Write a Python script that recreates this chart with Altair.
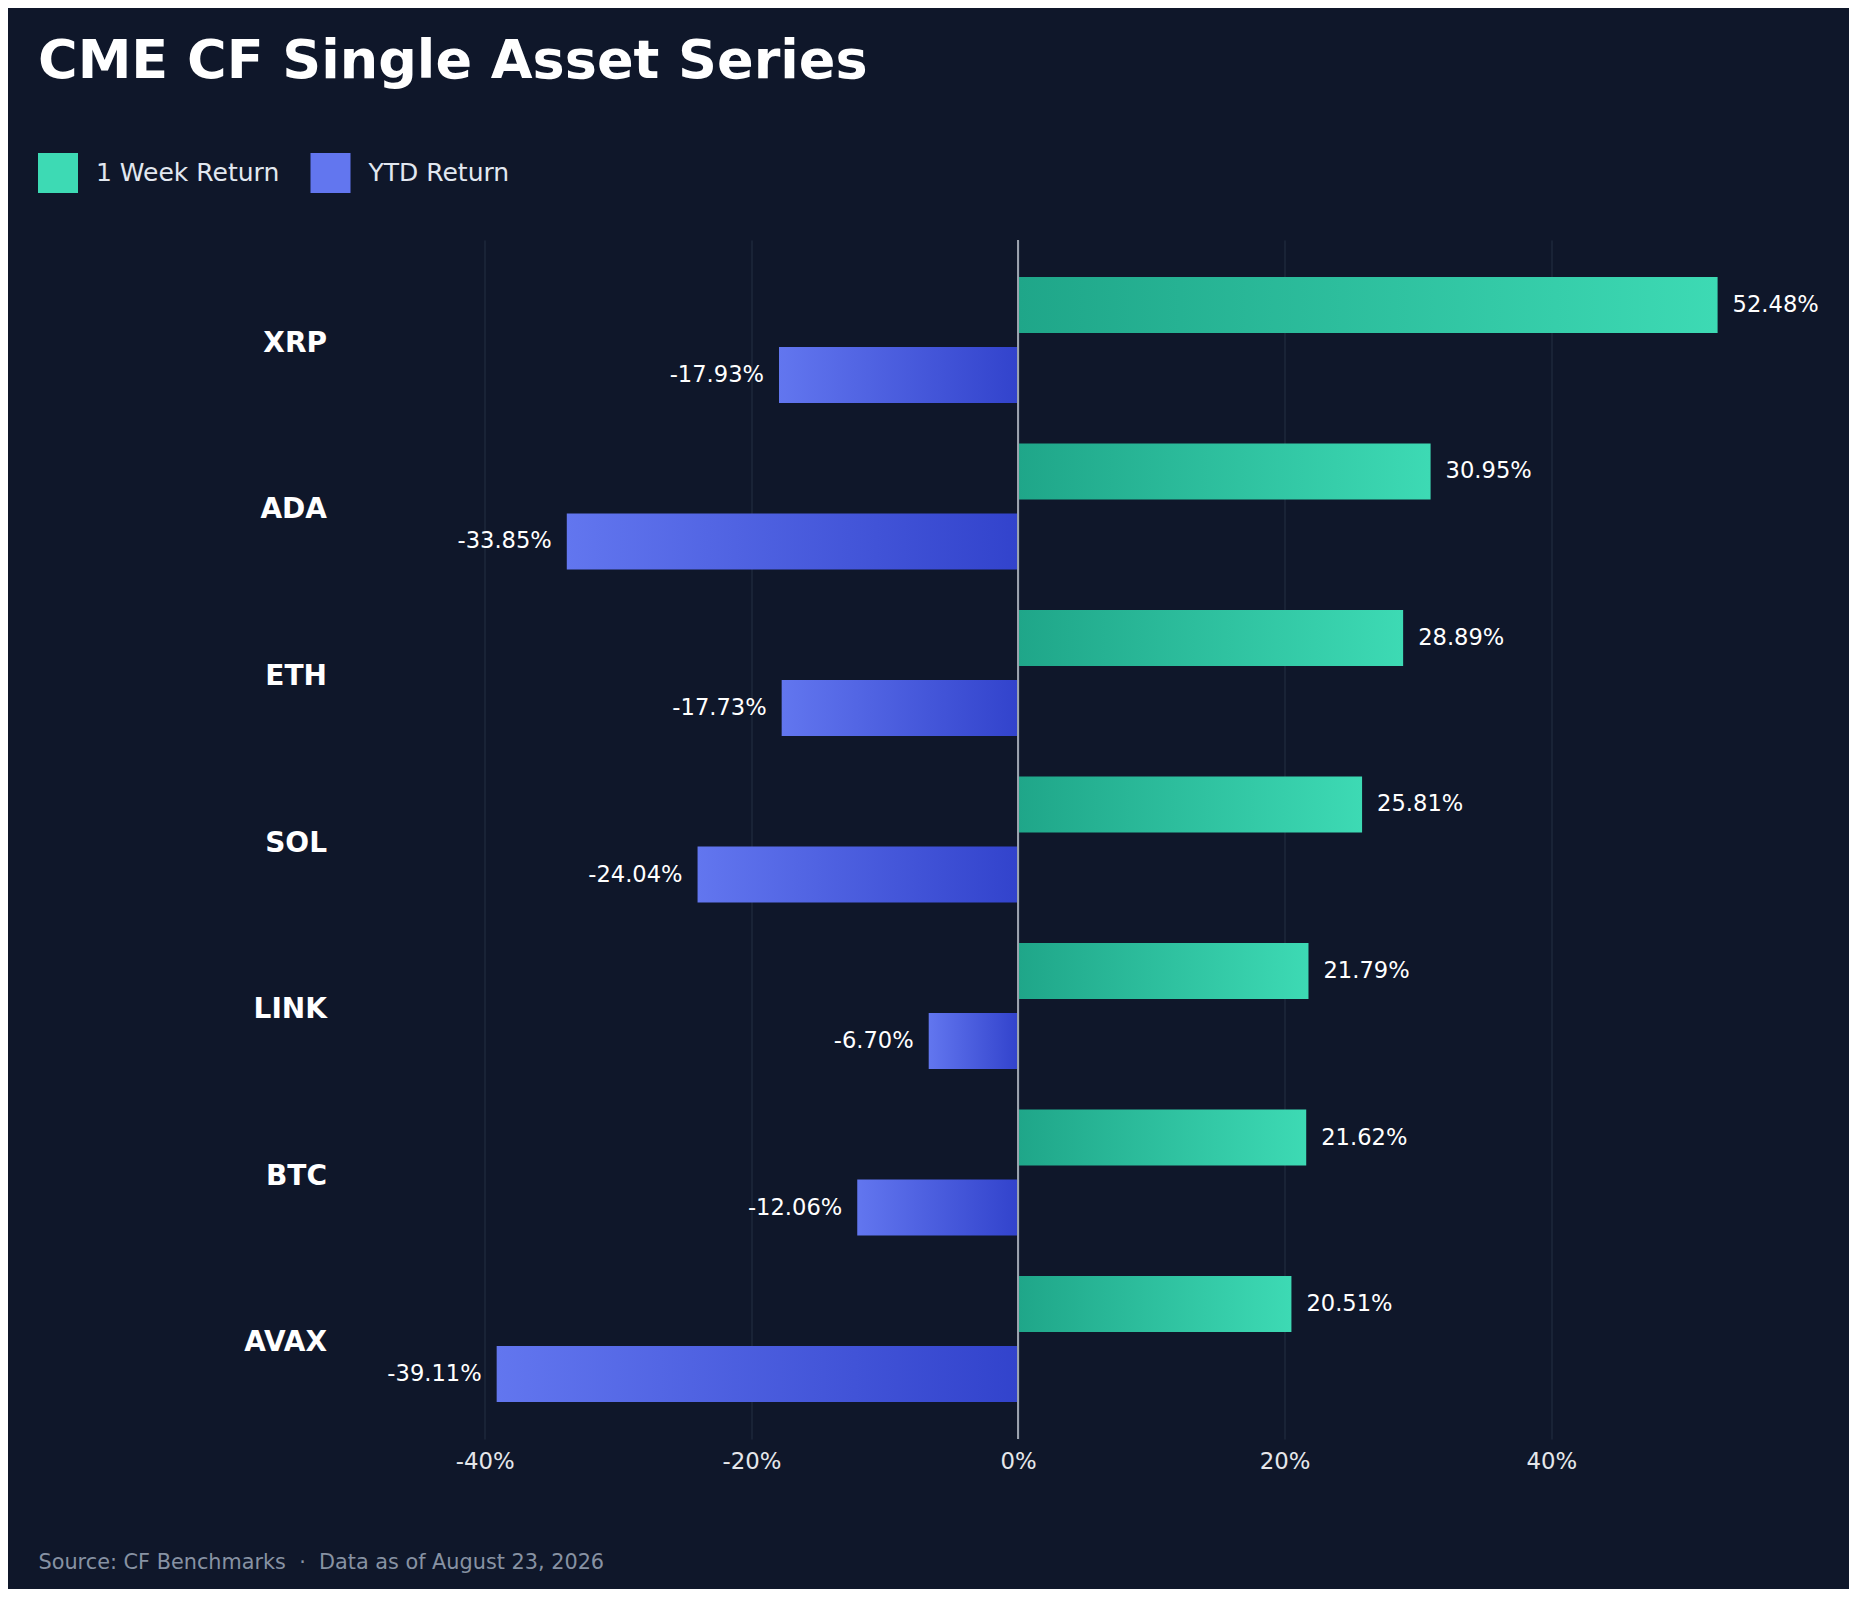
import altair as alt
import pandas as pd

assets = ["XRP", "ADA", "ETH", "SOL", "LINK", "BTC", "AVAX"]
week_return = [52.48, 30.95, 28.89, 25.81, 21.79, 21.62, 20.51]
ytd_return = [-17.93, -33.85, -17.73, -24.04, -6.70, -12.06, -39.11]
series_names = ["1 Week Return", "YTD Return"]
x_ticks = [-40, -20, 0, 20, 40]

rows = []
for a, w, y in zip(assets, week_return, ytd_return):
    rows.append({"asset": a, "series": series_names[0], "value": w, "label": f"{w:.2f}%"})
    rows.append({"asset": a, "series": series_names[1], "value": y, "label": f"{y:.2f}%"})
df = pd.DataFrame(rows)

BG = "#0f172a"
FONT = "DejaVu Sans"
GREEN_LIGHT = "#3ddab4"
GREEN_DARK = "#1fa689"
BLUE_LIGHT = "#6276ef"
BLUE_DARK = "#3243cc"

x_scale = alt.Scale(domain=[-50, 62], nice=False, zero=False)
y_scale = alt.Scale(domain=assets, paddingInner=0, paddingOuter=0.1)
yoff_scale = alt.Scale(domain=series_names, paddingInner=0.2, paddingOuter=0.289)

PLOT_LEFT = 351.5
PLOT_TOP = 240

base = alt.Chart(df)

NB = "\u00a0"
source_text = f"Source: CF Benchmarks{NB}{NB}\u00b7{NB}{NB}Data as of August 23, 2026"

x_enc = alt.X(
    "value:Q",
    scale=x_scale,
    axis=alt.Axis(
        values=x_ticks,
        labelExpr="datum.value + '%'",
        grid=True,
        gridColor="#1e293b",
        gridWidth=1.5,
        domain=False,
        ticks=False,
        labelFontSize=22.8,
        labelColor="#e5e7eb",
        labelFont=FONT,
        labelPadding=11,
        title=source_text,
        titleFont=FONT,
        titleFontSize=20.8,
        titleFontWeight="normal",
        titleColor="#8792a3",
        titleAlign="left",
        titleBaseline="alphabetic",
        titleAnchor="start",
        titleX=38 - PLOT_LEFT,
        titleY=1568 - 1439,
        titleLimit=0,
    ),
)
y_enc = alt.Y(
    "asset:N",
    sort=assets,
    scale=y_scale,
    axis=alt.Axis(
        title=None,
        domain=False,
        ticks=False,
        grid=False,
        labelFont=FONT,
        labelFontSize=28,
        labelFontWeight="bold",
        labelColor="#ffffff",
        labelPadding=25,
        labelOffset=4,
    ),
)
yoff = alt.YOffset("series:N", scale=yoff_scale)

green_bars = base.transform_filter(alt.datum.series == series_names[0]).mark_bar(
    color=alt.LinearGradient(
        gradient="linear",
        x1=0, x2=1, y1=0, y2=0,
        stops=[alt.GradientStop(color=GREEN_DARK, offset=0),
               alt.GradientStop(color=GREEN_LIGHT, offset=1)],
    )
).encode(x=x_enc, y=y_enc, yOffset=yoff)

blue_bars = base.transform_filter(alt.datum.series == series_names[1]).mark_bar(
    color=alt.LinearGradient(
        gradient="linear",
        x1=0, x2=1, y1=0, y2=0,
        stops=[alt.GradientStop(color=BLUE_LIGHT, offset=0),
               alt.GradientStop(color=BLUE_DARK, offset=1)],
    )
).encode(x="value:Q", y=alt.Y("asset:N", sort=assets), yOffset=yoff)

green_text = base.transform_filter(alt.datum.series == series_names[0]).mark_text(
    align="left", baseline="middle", dx=15, font=FONT, fontSize=22.6, color="#ffffff"
).encode(x="value:Q", y=alt.Y("asset:N", sort=assets), yOffset=yoff, text="label:N")

blue_text = base.transform_filter(alt.datum.series == series_names[1]).mark_text(
    align="right", baseline="middle", dx=-15, font=FONT, fontSize=22.6, color="#ffffff"
).encode(x="value:Q", y=alt.Y("asset:N", sort=assets), yOffset=yoff, text="label:N")

zero_rule = alt.Chart(pd.DataFrame({"zero": [0]})).mark_rule(
    color="#9ca3af", strokeWidth=2
).encode(x="zero:Q")

legend_layer = base.transform_filter("false").mark_square().encode(
    color=alt.Color(
        "series:N",
        scale=alt.Scale(domain=series_names, range=[GREEN_LIGHT, BLUE_LIGHT]),
        legend=alt.Legend(
            title=None,
            orient="none",
            legendX=38 - PLOT_LEFT,
            legendY=153 - PLOT_TOP,
            direction="horizontal",
            symbolType="square",
            symbolSize=1600,
            symbolStrokeWidth=0,
            symbolOpacity=1,
            labelFont=FONT,
            labelFontSize=25,
            labelColor="#e2e8f0",
            labelOffset=18,
            labelLimit=0,
            columnPadding=30.5,
            padding=0,
        ),
    )
)

chart = alt.layer(
    green_bars, blue_bars, green_text, blue_text, zero_rule, legend_layer
).properties(
    width=1493,
    height=1199,
    title=alt.Title(
        "CME CF Single Asset Series",
        anchor="start",
        frame="group",
        dx=38 - PLOT_LEFT,
        offset=21,
        baseline="alphabetic",
        font=FONT,
        fontSize=54,
        fontWeight="bold",
        color="#ffffff",
    ),
    autosize=alt.AutoSizeParams(type="none"),
    padding={"left": PLOT_LEFT - 8, "top": PLOT_TOP - 8, "right": 4, "bottom": 150},
    background=BG,
).configure_view(stroke=None)

chart.save("out.html", embed_options={"renderer": "svg", "actions": False})
